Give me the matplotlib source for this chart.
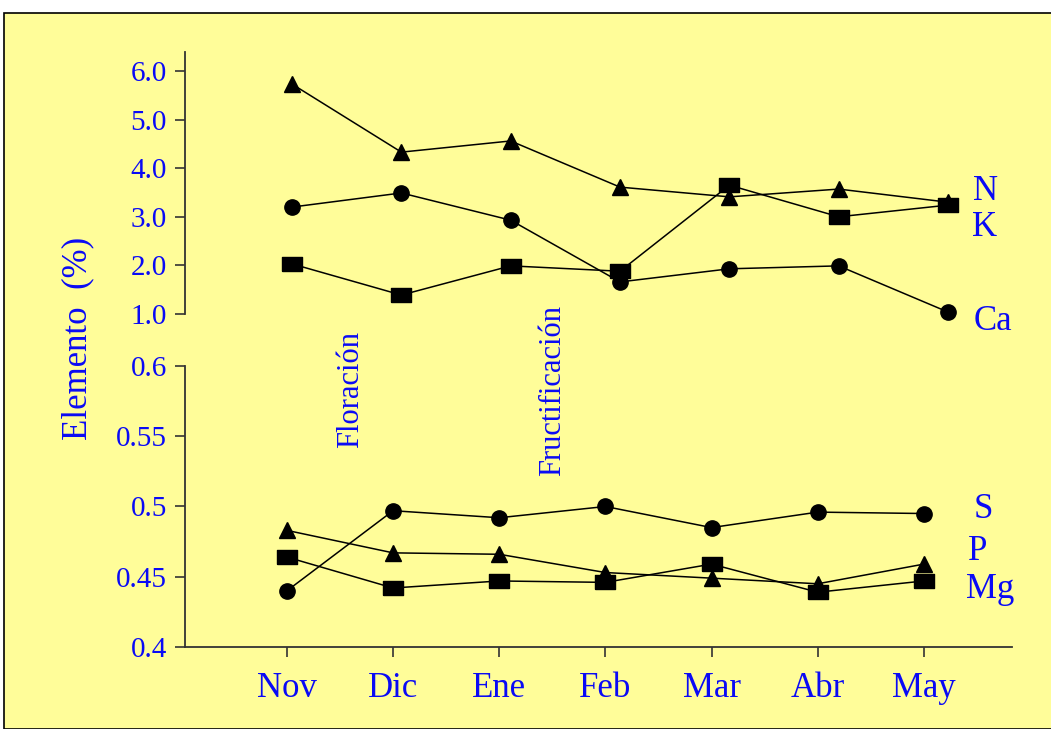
import numpy as np
import matplotlib.pyplot as plt
from matplotlib.patches import Rectangle

plt.rcParams['font.family'] = ['Liberation Serif', 'DejaVu Serif']

# datos
meses = ['Nov', 'Dic', 'Ene', 'Feb', 'Mar', 'Abr', 'May']
N = [5.73, 4.33, 4.56, 3.61, 3.41, 3.57, 3.30]
K = [2.03, 1.39, 1.99, 1.88, 3.65, 3.00, 3.24]
Ca = [3.20, 3.49, 2.93, 1.66, 1.93, 1.99, 1.04]
S = [0.440, 0.497, 0.492, 0.500, 0.485, 0.496, 0.495]
P = [0.483, 0.467, 0.466, 0.453, 0.449, 0.445, 0.459]
Mg = [0.464, 0.442, 0.447, 0.446, 0.459, 0.439, 0.447]

ticks_sup = [1.0, 2.0, 3.0, 4.0, 5.0, 6.0]
ticks_inf = [0.4, 0.45, 0.5, 0.55, 0.6]
ticks_inf_txt = ['0.4', '0.45', '0.5', '0.55', '0.6']

amarillo = '#FFFD99'
azul = '#0A0AF5'
W, H = 1051, 729

fig = plt.figure(figsize=(W / 100, H / 100), dpi=100)
fig.patch.set_facecolor('white')
fondo = Rectangle((4 / W, 0), 1, 1 - 13 / H, transform=fig.transFigure,
                  facecolor=amarillo, edgecolor='black', lw=1.2, zorder=-10)
fig.add_artist(fondo)

x = np.arange(len(meses))
# cuadrado ancho como en el original
rect = [(-1.5, -1), (1.5, -1), (1.5, 1), (-1.5, 1), (-1.5, -1)]


def px(l, t, r, b):
    return [l / W, 1 - b / H, (r - l) / W, (b - t) / H]


ax1 = fig.add_axes(px(185, 52, 1012, 314))
ax2 = fig.add_axes(px(185, 366, 1012, 647))

for ax in (ax1, ax2):
    ax.set_facecolor('none')
    for s in ['top', 'right']:
        ax.spines[s].set_visible(False)
    ax.spines['left'].set_color('#333333')
    ax.spines['bottom'].set_color('#333333')
    ax.spines['left'].set_linewidth(1.3)
    ax.spines['bottom'].set_linewidth(1.3)
    ax.tick_params(colors='#333333', labelcolor=azul, length=7, width=1.2,
                   labelsize=21, pad=6)

kw = dict(color='black', lw=1.1, clip_on=False)

# panel superior
ax1.plot(x, N, marker='^', ms=12, **kw)
ax1.plot(x, K, marker=rect, ms=15, **kw)
ax1.plot(x, Ca, marker='o', ms=11, **kw)
ax1.set_xlim(-0.979, 6.585)
ax1.set_ylim(1.0, 6.39)
ax1.spines['bottom'].set_visible(False)
ax1.set_xticks([])
ax1.set_yticks(ticks_sup)
ax1.set_yticklabels([f'{v:.1f}' for v in ticks_sup])

# panel inferior
ax2.plot(x, S, marker='o', ms=11, **kw)
ax2.plot(x, P, marker='^', ms=12, **kw)
ax2.plot(x, Mg, marker=rect, ms=15, **kw)
ax2.set_xlim(-0.96, 6.83)
ax2.set_ylim(0.4, 0.6)
ax2.set_yticks(ticks_inf)
ax2.set_yticklabels(ticks_inf_txt)
ax2.set_xticks(x)
ax2.set_xticklabels(meses, fontsize=25)
ax2.tick_params(axis='x', pad=11)

# etiquetas de las series
fig.text(985 / W, 1 - 192 / H, 'N', color=azul, fontsize=25, ha='center', va='center')
fig.text(985 / W, 1 - 228 / H, 'K', color=azul, fontsize=25, ha='center', va='center')
fig.text(993 / W, 1 - 321 / H, 'Ca', color=azul, fontsize=25, ha='center', va='center')
fig.text(983 / W, 1 - 510 / H, 'S', color=azul, fontsize=25, ha='center', va='center')
fig.text(978 / W, 1 - 551 / H, 'P', color=azul, fontsize=25, ha='center', va='center')
fig.text(990 / W, 1 - 590 / H, 'Mg', color=azul, fontsize=25, ha='center', va='center')

fig.text(78 / W, 1 - 338 / H, 'Elemento  (%)', color=azul, fontsize=25,
         rotation=90, ha='center', va='center')
fig.text(351 / W, 1 - 390 / H, 'Floración', color=azul, fontsize=22,
         rotation=90, ha='center', va='center')
fig.text(553 / W, 1 - 391 / H, 'Fructificación', color=azul, fontsize=22,
         rotation=90, ha='center', va='center')

fig.savefig('out.png', dpi=100, facecolor='white')
